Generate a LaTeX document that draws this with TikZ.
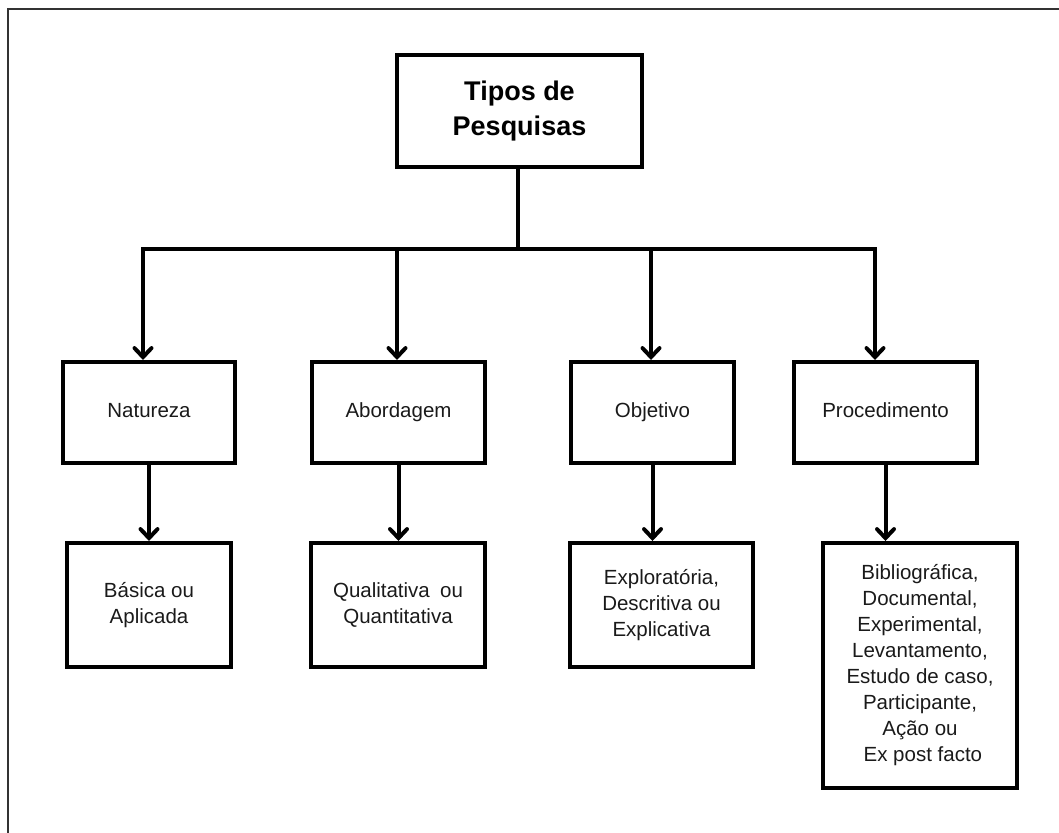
\documentclass[tikz,border=0pt]{standalone}
\usepackage{fontspec}
\setmainfont{Liberation Sans}
\usetikzlibrary{arrows.meta}
\definecolor{ink}{HTML}{1A1A1A}
\definecolor{framegray}{HTML}{333333}
\tikzset{
  box/.style={draw=black, line width=4pt, rectangle, inner sep=0pt,
    align=center, text=ink, font=\fontsize{20.5}{26}\selectfont},
  titlebox/.style={box, font=\fontsize{27}{35}\selectfont\bfseries, text=black},
  link/.style={draw=black, line width=4pt},
  arr/.style={link, -{Straight Barb[length=9pt,width=17pt,line cap=round]}},
}
\begin{document}
\begin{tikzpicture}[x=1pt,y=-1pt]
  \useasboundingbox (0,0) rectangle (1059,832);
  \clip (0,0) rectangle (1059,832);
  % outer frame
  \draw[framegray, line width=2pt] (8,9) rectangle (1070,845);

  % root
  \node[titlebox, minimum width=245pt, minimum height=112pt] (root) at (519.5,111) {\strut Tipos de\\Pesquisas\strut};

  % categories
  \node[box, minimum width=172pt, minimum height=101pt] (nat) at (149,412.5) {\strut Natureza};
  \node[box, minimum width=173pt, minimum height=101pt] (abo) at (398.5,412.5) {\strut Abordagem};
  \node[box, minimum width=163pt, minimum height=101pt] (obj) at (652.5,412.5) {\strut Objetivo};
  \node[box, minimum width=183pt, minimum height=101pt] (pro) at (885.5,412.5) {\strut Procedimento};

  % kinds
  \node[box, minimum width=164pt, minimum height=124pt] (bas) at (149,605) {\strut Básica ou\\Aplicada\strut};
  \node[box, minimum width=174pt, minimum height=124pt] (qua) at (398,605) {\strut Qualitativa\hspace{0.5em}ou\\Quantitativa\strut};
  \node[box, minimum width=183pt, minimum height=124pt] (exp) at (661.5,605) {\strut Exploratória,\\Descritiva ou\\Explicativa\strut};
  \node[box, minimum width=194pt, minimum height=245pt] (bib) at (920,665.5)
    {\strut Bibliográfica,\\Documental,\\Experimental,\\Levantamento,\\Estudo de caso,\\Participante,\\Ação ou\\\ Ex post facto\strut};

  % branching bar
  \coordinate (j1) at (143,249);
  \coordinate (j2) at (397,249);
  \coordinate (j3) at (651,249);
  \coordinate (j4) at (875,249);
  \coordinate (stem) at (518,249);
  \draw[link] (root.south -| stem) -- (stem);
  \draw[link, line cap=rect] (j1) -- (j4);

  \draw[arr] (j1) -- (j1 |- nat.north);
  \draw[arr] (j2) -- (j2 |- abo.north);
  \draw[arr] (j3) -- (j3 |- obj.north);
  \draw[arr] (j4) -- (j4 |- pro.north);

  \draw[arr] (nat.south) -- (nat.south |- bas.north);
  \draw[arr] (abo.south) -- (abo.south |- qua.north);
  \draw[arr] (obj.south) -- (obj.south |- exp.north);
  \draw[arr] (pro.south) -- (pro.south |- bib.north);
\end{tikzpicture}
\end{document}
